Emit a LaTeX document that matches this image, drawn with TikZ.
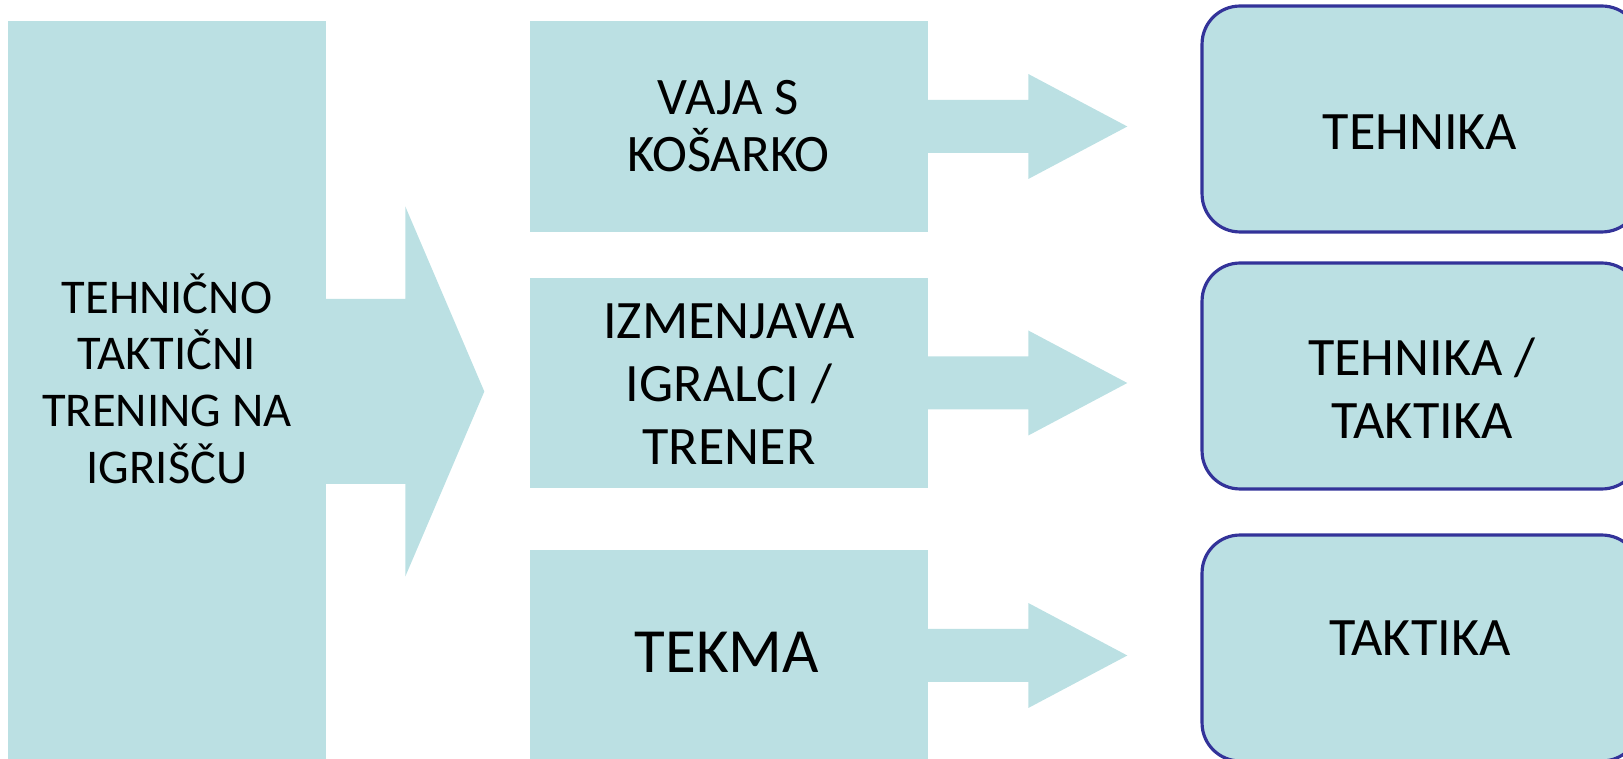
\documentclass[tikz,border=0pt]{standalone}
\usepackage{fontspec}
\setmainfont{Carlito}
\definecolor{pale}{HTML}{BBE0E3}
\definecolor{edge}{HTML}{333399}

\begin{document}
\begin{tikzpicture}[x=0.02cm,y=-0.02cm,
  block/.style={fill=pale,inner sep=0pt},
  roundbox/.style={draw=edge,line width=1.8pt,fill=pale,rounded corners=0.76cm,
    minimum width=8.76cm,minimum height=4.52cm,inner sep=0pt},
  txt/.style={align=center,inner sep=0pt,anchor=south}]

  \useasboundingbox (0,0) rectangle (1623,759);

  \draw (167,391.5) node[block,minimum width=6.36cm,minimum height=14.82cm] (lft) {};
\draw (729,126.5) node[block,minimum width=7.96cm,minimum height=4.22cm] (mid1) {};
\draw (729,383) node[block,minimum width=7.96cm,minimum height=4.22cm] (mid2) {};
\draw (729,655.5) node[block,minimum width=7.96cm,minimum height=4.22cm] (mid3) {};

\draw (1421,119) node[roundbox] (rgt1) {};
\draw (1421,376) node[roundbox] (rgt2) {};
\draw (1421,648) node[roundbox] (rgt3) {};

  \fill[pale] (lft.east) ++(-2,-92.5) -- ++(81,0) -- ++(0,-92.5) -- ++(79,185)
    -- ++(-79,185) -- ++(0,-92.5) -- ++(-81,0) -- cycle;

  \fill[pale] (mid1.east) ++(-2,-26.5) -- ++(102,0) -- ++(0,-26) -- ++(99,52.5)
    -- ++(-99,52.5) -- ++(0,-26) -- ++(-102,0) -- cycle;
  \fill[pale] (mid2.east) ++(-2,-26.5) -- ++(102,0) -- ++(0,-26) -- ++(99,52.5)
    -- ++(-99,52.5) -- ++(0,-26) -- ++(-102,0) -- cycle;
  \fill[pale] (mid3.east) ++(-2,-26.5) -- ++(102,0) -- ++(0,-26) -- ++(99,52.5)
    -- ++(-99,52.5) -- ++(0,-26) -- ++(-102,0) -- cycle;

  \draw (167,484) node[txt,font=\fontsize{27.6}{32.3}\selectfont] (tlft)
    {TEHNIČNO\\TAKTIČNI\\TRENING NA\\IGRIŠČU};

  \draw (728.5,172) node[txt,font=\fontsize{30}{32.6}\selectfont] (tmid1)
    {VAJA S\\KOŠARKO};
  \draw (729,465) node[txt,font=\fontsize{30.8}{36}\selectfont] (tmid2)
    {IZMENJAVA\\IGRALCI /\\TRENER};
  \draw (727,673) node[txt,font=\fontsize{35.8}{42}\selectfont] (tmid3) {TEKMA};

  \draw (1420,150) node[txt,font=\fontsize{30.8}{35.7}\selectfont] (trgt1) {TEHNIKA};
  \draw (1422,439) node[txt,font=\fontsize{30.8}{35.7}\selectfont] (trgt2)
    {TEHNIKA /\\TAKTIKA};
  \draw (1420,656) node[txt,font=\fontsize{30.8}{35.7}\selectfont] (trgt3) {TAKTIKA};

\end{tikzpicture}
\end{document}
